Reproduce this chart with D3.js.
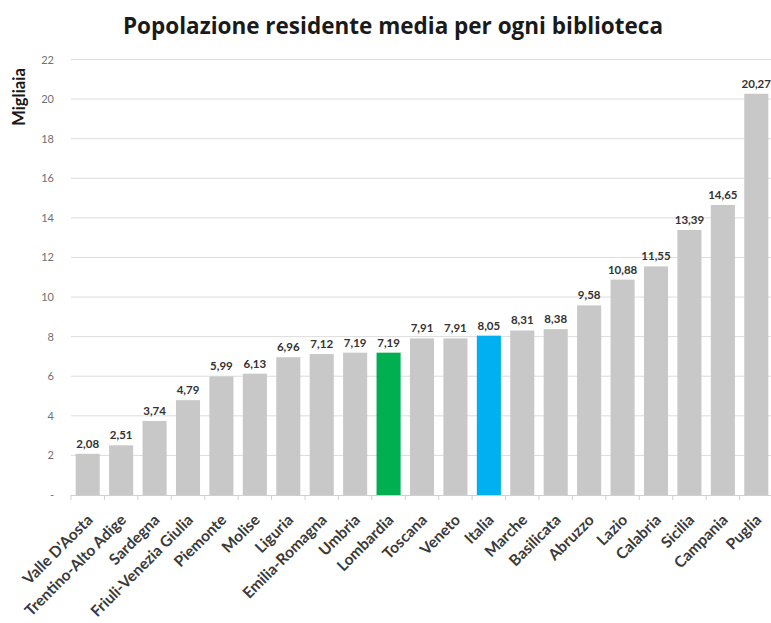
<!DOCTYPE html>
<html>
<head>
<meta charset="utf-8">
<script src="https://cdn.jsdelivr.net/npm/d3@7"></script>
<style>
  html, body { margin: 0; padding: 0; background: #fff; }
  svg { display: block; font-family: Lato, "Open Sans", sans-serif; }
</style>
</head>
<body>
<svg id="chart" width="771" height="623"></svg>
<script>
// Regions and average resident population per library (thousands)
const regions = ["Valle D'Aosta", "Trentino-Alto Adige", "Sardegna", "Friuli-Venezia Giulia",
  "Piemonte", "Molise", "Liguria", "Emilia-Romagna", "Umbria", "Lombardia", "Toscana",
  "Veneto", "Italia", "Marche", "Basilicata", "Abruzzo", "Lazio", "Calabria", "Sicilia",
  "Campania", "Puglia"];
const values = [2.08, 2.51, 3.74, 4.79, 5.99, 6.13, 6.96, 7.12, 7.19, 7.19, 7.91,
  7.91, 8.05, 8.31, 8.38, 9.58, 10.88, 11.55, 13.39, 14.65, 20.27];
const yTicks = [0, 2, 4, 6, 8, 10, 12, 14, 16, 18, 20, 22];
const highlight = { "Lombardia": "#00b050", "Italia": "#00b0f0" };
const baseColor = "#c8c8c8";

const data = regions.map((r, i) => ({ region: r, value: values[i] }));

const svg = d3.select("#chart");
const margin = { left: 71, right: -2, top: 59.5, bottom: 128 };
const W = 771, H = 623;

const x = d3.scaleBand()
  .domain(regions)
  .range([margin.left, W - margin.right])
  .paddingInner(0.28)
  .paddingOuter(0.14);

const y = d3.scaleLinear()
  .domain([0, 22])
  .range([H - margin.bottom, margin.top]);

const fmt = v => d3.format(".2f")(v).replace(".", ",");

// Title
svg.append("text")
  .attr("x", 393)
  .attr("y", 34)
  .attr("text-anchor", "middle")
  .attr("font-family", "'Open Sans', Lato, sans-serif")
  .attr("font-size", 22.5)
  .attr("font-weight", "bold")
  .attr("fill", "#1a1a1a")
  .text("Popolazione residente media per ogni biblioteca");

// Y axis title
svg.append("text")
  .attr("transform", "translate(25,97) rotate(-90)")
  .attr("text-anchor", "middle")
  .attr("font-size", 16.5)
  .attr("font-weight", "bold")
  .attr("fill", "#1a1a1a")
  .text("Migliaia");

// Gridlines
svg.append("g")
  .selectAll("line")
  .data(yTicks.filter(t => t > 0))
  .join("line")
  .attr("x1", margin.left)
  .attr("x2", W)
  .attr("y1", d => y(d))
  .attr("y2", d => y(d))
  .attr("stroke", "#dcdcdc")
  .attr("stroke-width", 1);

// Y axis labels
const yAxis = d3.axisLeft(y)
  .tickValues(yTicks)
  .tickSize(0)
  .tickPadding(0)
  .tickFormat(d => d === 0 ? "-" : d);
svg.append("g")
  .attr("transform", `translate(${margin.left - 17},0)`)
  .call(yAxis)
  .call(g => g.select(".domain").remove())
  .call(g => g.selectAll("text")
    .attr("font-size", 11)
    .attr("fill", "#707070")
    .attr("font-family", "Lato, 'Open Sans', sans-serif"));

// Bars
svg.append("g")
  .selectAll("rect")
  .data(data)
  .join("rect")
  .attr("x", d => x(d.region))
  .attr("width", x.bandwidth())
  .attr("y", d => y(d.value))
  .attr("height", d => y(0) - y(d.value))
  .attr("fill", d => highlight[d.region] || baseColor);

// Value labels
svg.append("g")
  .selectAll("text")
  .data(data)
  .join("text")
  .attr("x", d => x(d.region) + x.bandwidth() / 2)
  .attr("y", d => y(d.value) - 6)
  .attr("text-anchor", "middle")
  .attr("font-size", 11.5)
  .attr("font-weight", "bold")
  .attr("fill", "#333")
  .text(d => fmt(d.value));

// X axis line and ticks between categories
const xAxisG = svg.append("g");
xAxisG.append("line")
  .attr("x1", margin.left)
  .attr("x2", W)
  .attr("y1", y(0) + 0.5)
  .attr("y2", y(0) + 0.5)
  .attr("stroke", "#d0d0d0");
const step = x.step();
const boundaries = d3.range(regions.length + 1).map(i => x.range()[0] + i * step);
xAxisG.selectAll("line.tick")
  .data(boundaries)
  .join("line")
  .attr("class", "tick")
  .attr("x1", d => d)
  .attr("x2", d => d)
  .attr("y1", y(0))
  .attr("y2", y(0) + 5)
  .attr("stroke", "#d0d0d0");

// Rotated category labels
svg.append("g")
  .selectAll("text")
  .data(regions)
  .join("text")
  .attr("transform", d => `translate(${x(d) + x.bandwidth() / 2 + 6},${y(0) + 26}) rotate(-45)`)
  .attr("text-anchor", "end")
  .attr("font-size", 15.5)
  .attr("font-weight", "bold")
  .attr("fill", "#3a3a3a")
  .text(d => d);
</script>
</body>
</html>
